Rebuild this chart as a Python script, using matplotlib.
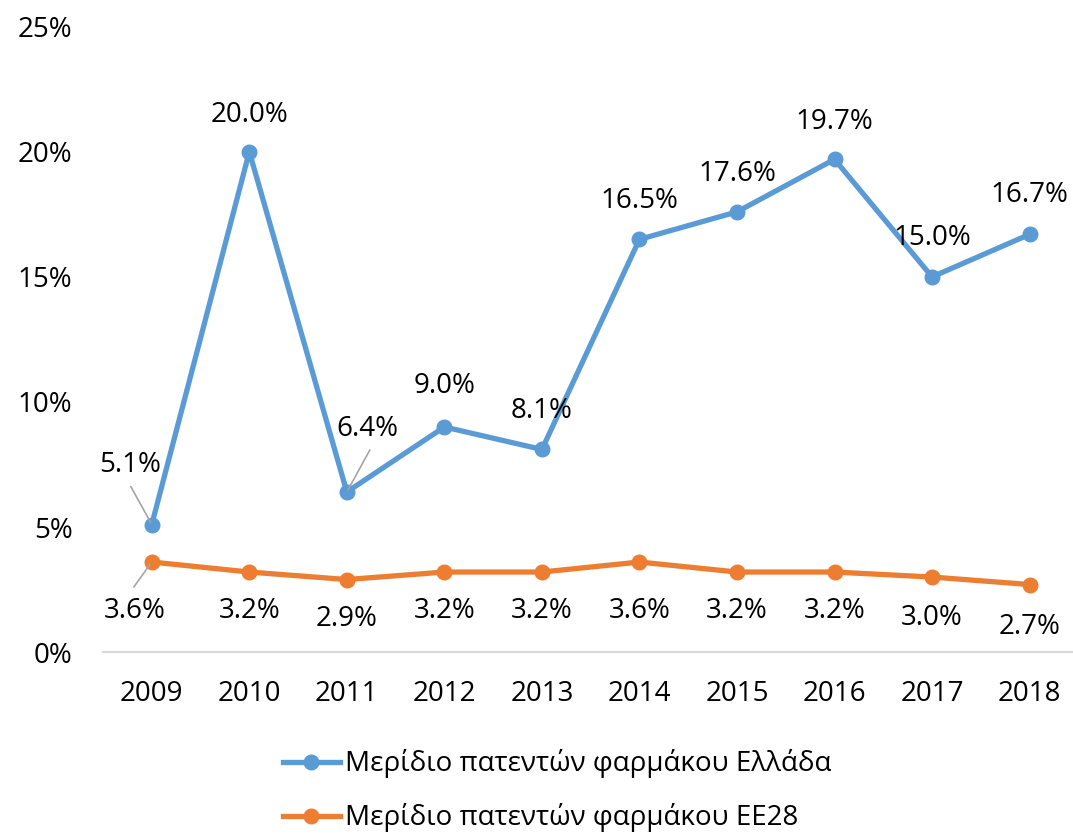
import matplotlib
matplotlib.use("Agg")
from matplotlib import pyplot as plt
from matplotlib.ticker import FuncFormatter

years = ["2009", "2010", "2011", "2012", "2013", "2014", "2015", "2016", "2017", "2018"]
greece = [5.1, 20.0, 6.4, 9.0, 8.1, 16.5, 17.6, 19.7, 15.0, 16.7]
eu28 = [3.6, 3.2, 2.9, 3.2, 3.2, 3.6, 3.2, 3.2, 3.0, 2.7]
greece_label = "Μερίδιο πατεντών φαρμάκου Ελλάδα"
eu_label = "Μερίδιο πατεντών φαρμάκου ΕΕ28"

blue = "#5B9BD5"
orange = "#ED7D31"

plt.rcParams['font.family'] = ['Open Sans', 'DejaVu Sans']
fs = 20

fig = plt.figure(figsize=(10.73, 8.36), dpi=100)
ax = fig.add_axes((0.096, 0.22, 0.909, 0.748))

x = list(range(len(years)))
ax.plot(x, greece, color=blue, lw=3.8, marker='o', ms=10.5, label=greece_label, zorder=3)
ax.plot(x, eu28, color=orange, lw=3.8, marker='o', ms=10.5, label=eu_label, zorder=3)

# labels for the Greece series (offsets in pixels)
g_off = [(-22, 60), (0, 37), (21, 63), (0, 41), (0, 38), (0, 38), (0, 38), (0, 37), (0, 39), (0, 39)]
for i, v in enumerate(greece):
    dx, dy = g_off[i]
    ax.annotate("%.1f%%" % v, (i, v), xytext=(dx, dy), textcoords='offset pixels',
                ha='center', va='center', fontsize=fs)
# leader lines
ax.annotate("", (0, greece[0]), xytext=(-21, 38), textcoords='offset pixels',
            arrowprops=dict(arrowstyle='-', color='#A5A5A5', lw=1.2, shrinkA=0, shrinkB=2))
ax.annotate("", (2, greece[2]), xytext=(23, 42), textcoords='offset pixels',
            arrowprops=dict(arrowstyle='-', color='#A5A5A5', lw=1.2, shrinkA=0, shrinkB=2))

e_off = [(-17, -49), (0, -39), (0, -39), (0, -39), (0, -39), (0, -49), (0, -39), (0, -39), (0, -41), (0, -42)]
for i, v in enumerate(eu28):
    dx, dy = e_off[i]
    ax.annotate("%.1f%%" % v, (i, v), xytext=(dx, dy), textcoords='offset pixels',
                ha='center', va='center', fontsize=fs)
ax.annotate("", (0, eu28[0]), xytext=(-18, -25), textcoords='offset pixels',
            arrowprops=dict(arrowstyle='-', color='#A5A5A5', lw=1.2, shrinkA=0, shrinkB=2))

ax.set_xlim(-0.5, len(years) - 0.5)
ax.set_ylim(0, 25)
ax.set_yticks([0, 5, 10, 15, 20, 25])
ax.yaxis.set_major_formatter(FuncFormatter(lambda v, p: "%d%%" % v))
ax.set_xticks(x)
ax.set_xticklabels(years)
ax.tick_params(axis='both', length=0, labelsize=fs)
ax.tick_params(axis='y', pad=22)
ax.tick_params(axis='x', pad=20)
for s in ['top', 'right', 'left']:
    ax.spines[s].set_visible(False)
ax.spines['bottom'].set_color('#D9D9D9')
ax.spines['bottom'].set_linewidth(1.5)

fig.legend(loc='center', bbox_to_anchor=(0.519, 0.054), frameon=False, fontsize=fs,
           handlelength=2.05, handletextpad=0.18, labelspacing=0.9)

fig.savefig("out.png", dpi=100)
plt.close(fig)
